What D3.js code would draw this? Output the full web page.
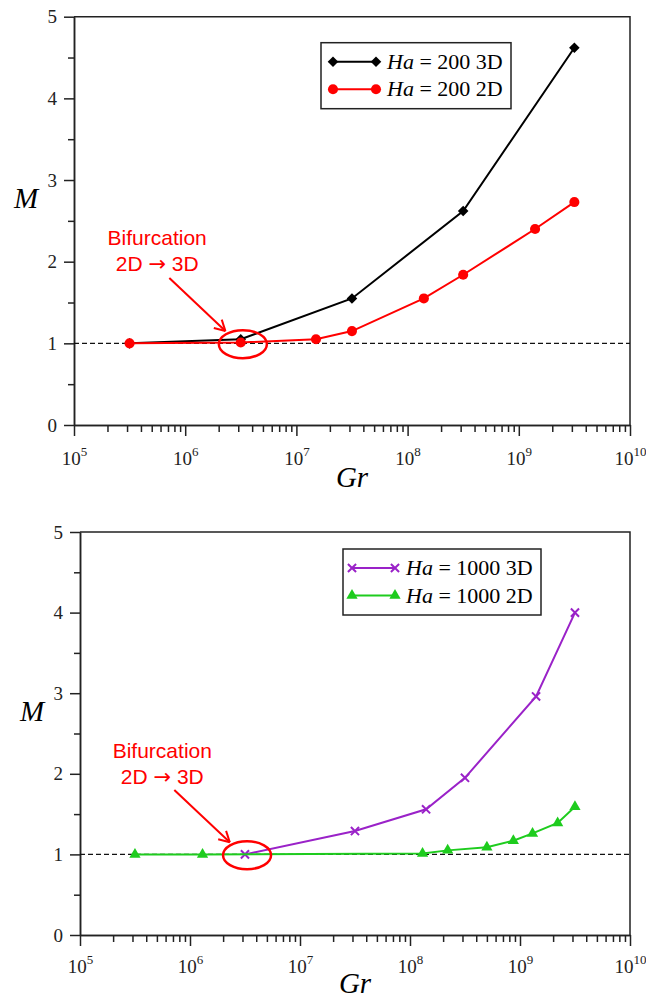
<!DOCTYPE html>
<html>
<head>
<meta charset="utf-8">
<script src="https://cdn.jsdelivr.net/npm/d3@7"></script>
<style>
  body { margin: 0; background: #fff; }
  svg { display: block; }
  .axis path, .axis line { stroke: #222; stroke-width: 1.5; }
  .axis text { font-family: "Liberation Serif", "Times New Roman", serif; font-size: 19px; fill: #222; }
</style>
</head>
<body>
<svg id="chart" width="646" height="1000"></svg>
<script>
// Ha = 200 (top panel)
const gr200_3d = [3.16e5, 3.16e6, 3.16e7, 3.16e8, 3.16e9];
const m200_3d  = [1.0, 1.05, 1.55, 2.62, 4.62];
const gr200_2d = [3.16e5, 3.16e6, 1.5e7, 3.16e7, 1.4e8, 3.16e8, 1.4e9, 3.16e9];
const m200_2d  = [1.0, 1.01, 1.05, 1.15, 1.55, 1.84, 2.40, 2.73];

// Ha = 1000 (bottom panel)
const gr1000_3d = [3.16e6, 3.16e7, 1.4e8, 3.16e8, 1.4e9, 3.16e9];
const m1000_3d  = [1.0, 1.29, 1.56, 1.95, 2.96, 4.0];
const gr1000_2d = [3.16e5, 1.3e6, 1.3e8, 2.2e8, 5e8, 8.7e8, 1.3e9, 2.2e9, 3.16e9];
const m1000_2d  = [1.0, 1.0, 1.01, 1.05, 1.09, 1.17, 1.26, 1.39, 1.59];

const xExponents = [5, 6, 7, 8, 9, 10];
const yTicks = [0, 1, 2, 3, 4, 5];
const yMinorTicks = [0.5, 1.5, 2.5, 3.5, 4.5];

const svg = d3.select('#chart');

function drawPanel(p) {
  const width = p.right - p.left;
  const height = p.bottom - p.top;

  const x = d3.scaleLog().domain([1e5, 1e10]).range([0, width]);
  const y = d3.scaleLinear().domain([0, 5]).range([height, 0]);

  const g = svg.append('g')
    .attr('transform', `translate(${p.left}, ${p.top})`);

  // minor x ticks
  const minorX = [];
  for (let e = 5; e < 10; e++) {
    for (let k = 2; k <= 9; k++) minorX.push(k * Math.pow(10, e));
  }
  g.append('g')
    .attr('class', 'axis')
    .attr('transform', `translate(0, ${height})`)
    .call(d3.axisBottom(x).tickValues(minorX).tickSize(7).tickSizeOuter(0).tickFormat(''));

  const xAxis = g.append('g')
    .attr('class', 'axis')
    .attr('transform', `translate(0, ${height})`)
    .call(d3.axisBottom(x)
      .tickValues(xExponents.map(e => Math.pow(10, e)))
      .tickSize(11).tickSizeOuter(0).tickFormat(''));

  xAxis.selectAll('.tick').each(function(d) {
    const t = d3.select(this).append('text')
      .attr('y', p.xLabelY)
      .attr('fill', '#222')
      .style('text-anchor', 'middle');
    t.append('tspan').text('10');
    t.append('tspan')
      .text(Math.round(Math.log10(d)))
      .attr('dy', -9)
      .style('font-size', '13px');
  });

  g.append('g')
    .attr('class', 'axis')
    .call(d3.axisLeft(y).tickValues(yMinorTicks).tickSize(6).tickSizeOuter(0).tickFormat(''));

  g.append('g')
    .attr('class', 'axis')
    .call(d3.axisLeft(y).tickValues(yTicks).tickSize(10).tickSizeOuter(0)
      .tickPadding(7).tickFormat(d3.format('d')));

  // top and right frame
  g.append('path')
    .attr('d', `M0,0 H${width} V${height}`)
    .attr('fill', 'none')
    .attr('stroke', '#222')
    .attr('stroke-width', 1.5);

  // reference line M = 1
  g.append('line')
    .attr('x1', 0).attr('x2', width)
    .attr('y1', y(1)).attr('y2', y(1))
    .attr('stroke', '#111')
    .attr('stroke-width', 1.4)
    .attr('stroke-dasharray', '5,3');

  const line = d3.line()
    .x(d => x(d[0]))
    .y(d => y(d[1]));

  p.series.forEach(s => {
    const pts = d3.zip(s.gr, s.m);
    g.append('path')
      .datum(pts)
      .attr('d', line)
      .attr('fill', 'none')
      .attr('stroke', s.color)
      .attr('stroke-width', 2);

    g.selectAll(null)
      .data(pts)
      .enter()
      .append('path')
        .attr('d', d3.symbol(s.symbol, s.size))
        .attr('transform', d => `translate(${x(d[0])}, ${y(d[1])}) rotate(${s.rotate || 0})`)
        .attr('fill', s.stroke ? 'none' : s.color)
        .attr('stroke', s.stroke ? s.color : 'none')
        .attr('stroke-width', 2);
  });

  // annotation
  g.append('ellipse')
    .attr('cx', x(3.3e6))
    .attr('cy', y(0.99))
    .attr('rx', 24)
    .attr('ry', 14)
    .attr('fill', 'none')
    .attr('stroke', '#f00')
    .attr('stroke-width', 2.5);

  const x1 = x(7.2e5), y1 = y(1.8), x2 = x(2.3e6), y2 = y(1.15);
  g.append('line')
    .attr('x1', x1).attr('y1', y1)
    .attr('x2', x2).attr('y2', y2)
    .attr('stroke', '#f00')
    .attr('stroke-width', 2);
  const ang = Math.atan2(y2 - y1, x2 - x1);
  [-0.5, 0.5].forEach(da => {
    g.append('line')
      .attr('x1', x2).attr('y1', y2)
      .attr('x2', x2 - 12 * Math.cos(ang + da))
      .attr('y2', y2 - 12 * Math.sin(ang + da))
      .attr('stroke', '#f00')
      .attr('stroke-width', 2);
  });

  const note = g.append('text')
    .attr('x', x(5.6e5))
    .attr('y', y(2.2))
    .attr('fill', '#f00')
    .style('font-family', '"Liberation Sans", Arial, sans-serif')
    .style('font-size', '21px')
    .style('text-anchor', 'middle');
  note.append('tspan').text('Bifurcation');
  const l2 = note.append('tspan').attr('x', x(5.6e5)).attr('dy', 26);
  l2.append('tspan').text('2D ');
  l2.append('tspan').text('\u2192').style('font-family', '"DejaVu Sans", sans-serif');
  l2.append('tspan').text(' 3D');

  // axis titles
  g.append('text')
    .text('Gr')
    .attr('x', width / 2)
    .attr('y', height + p.grY)
    .style('font-family', '"Liberation Serif", serif')
    .style('font-style', 'italic')
    .style('font-size', '29px')
    .style('text-anchor', 'middle');

  g.append('text')
    .text('M')
    .attr('x', -60)
    .attr('y', y(2.66))
    .style('font-family', '"Liberation Serif", serif')
    .style('font-style', 'italic')
    .style('font-size', '29px');

  // legend
  const lg = g.append('g')
    .attr('transform', `translate(${p.legend.x}, ${p.legend.y})`);
  lg.append('rect')
    .attr('width', p.legend.w)
    .attr('height', 66)
    .attr('fill', '#fff')
    .attr('stroke', '#222')
    .attr('stroke-width', 1.5);
  p.series.forEach((s, i) => {
    const ly = 19 + i * 27.5;
    lg.append('line')
      .attr('x1', p.legend.lx).attr('x2', p.legend.lx + 43)
      .attr('y1', ly).attr('y2', ly)
      .attr('stroke', s.color)
      .attr('stroke-width', 2);
    [p.legend.lx, p.legend.lx + 43].forEach(mx => {
      lg.append('path')
        .attr('d', d3.symbol(s.symbol, s.size))
        .attr('transform', `translate(${mx}, ${ly}) rotate(${s.rotate || 0})`)
        .attr('fill', s.stroke ? 'none' : s.color)
        .attr('stroke', s.stroke ? s.color : 'none')
        .attr('stroke-width', 2);
    });
    const t = lg.append('text')
      .attr('x', p.legend.lx + 54)
      .attr('y', ly + 7)
      .style('font-family', '"Liberation Serif", serif')
      .style('font-size', '22px');
    t.append('tspan').text('Ha').style('font-style', 'italic');
    t.append('tspan').text(' = ' + s.label);
  });
}

drawPanel({
  left: 74, right: 630, top: 16.7, bottom: 425,
  xLabelY: 40, grY: 62,
  legend: { x: 247, y: 26, w: 190, lx: 12 },
  series: [
    { gr: gr200_3d, m: m200_3d, color: '#000', symbol: d3.symbolSquare, size: 56, rotate: 45, label: '200 3D' },
    { gr: gr200_2d, m: m200_2d, color: '#f00', symbol: d3.symbolCircle, size: 80, label: '200 2D' }
  ]
});

drawPanel({
  left: 80, right: 630, top: 532, bottom: 935,
  xLabelY: 38, grY: 58,
  legend: { x: 263, y: 17, w: 198, lx: 9 },
  series: [
    { gr: gr1000_3d, m: m1000_3d, color: '#9a22c8', symbol: d3.symbolX, size: 45, stroke: true, label: '1000 3D' },
    { gr: gr1000_2d, m: m1000_2d, color: '#1ecc1e', symbol: d3.symbolTriangle, size: 55, label: '1000 2D' }
  ]
});
</script>
</body>
</html>
